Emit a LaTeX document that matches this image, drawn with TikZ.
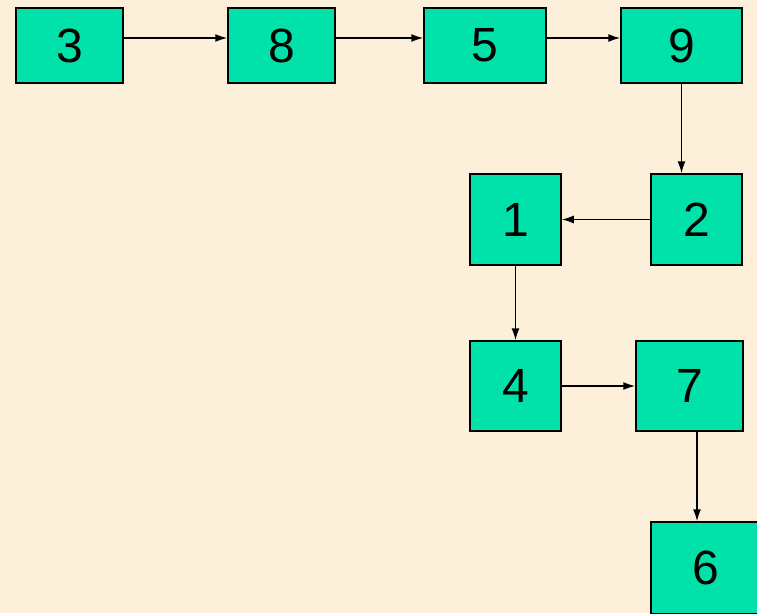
\documentclass[tikz,border=0pt]{standalone}
\usepackage{fontspec}
\setmainfont{Liberation Sans}
\usetikzlibrary{arrows.meta}
\definecolor{paper}{RGB}{252,240,218}
\definecolor{boxgreen}{RGB}{0,226,170}

\begin{document}
\begin{tikzpicture}[x=1pt, y=-1pt, line width=1.5pt,
  numbox/.style={rectangle, draw, fill=boxgreen, inner sep=0pt, font=\fontsize{48}{56}\selectfont},
  link/.style={-{Latex[length=12pt,width=8pt]}}]
  \clip (0,0) rectangle (757,613);
  \fill[paper] (0,0) rectangle (757,613);
  % top row
  \node[numbox, minimum width=107pt, minimum height=75pt] (n3) at (69.5,45.5) {3};
  \node[numbox, minimum width=107pt, minimum height=75pt] (n8) at (281.5,45.5) {8};
  \node[numbox, minimum width=122pt, minimum height=75pt] (n5) at (485,45.5) {5};
  \node[numbox, minimum width=121pt, minimum height=75pt] (n9) at (681.5,45.5) {9};
  % the rest
  \node[numbox, minimum width=91pt, minimum height=91pt] (n1) at (515.5,219.5) {1};
  \node[numbox, minimum width=91pt, minimum height=91pt] (n2) at (696.5,219.5) {2};
  \node[numbox, minimum width=91pt, minimum height=90pt] (n4) at (515.5,386) {4};
  \node[numbox, minimum width=107pt, minimum height=90pt] (n7) at (689.5,386) {7};
  \node[numbox, minimum width=110pt, minimum height=92pt] (n6) at (706,568) {6};
  \draw[link] ([yshift=7.5pt]n3.east) -- ([yshift=7.5pt]n8.west);
  \draw[link] ([yshift=7.5pt]n8.east) -- ([yshift=7.5pt]n5.west);
  \draw[link] ([yshift=7.5pt]n5.east) -- ([yshift=7.5pt]n9.west);
  \draw[link] (n9.south) -- (n9.south |- n2.north);
  \draw[link] (n2.west) -- (n1.east);
  \draw[link] (n1.south) -- (n4.north);
  \draw[link] (n4.east) -- (n7.west);
  \draw[link] ([xshift=7.5pt]n7.south) -- ([xshift=7.5pt]n7.south |- n6.north);
\end{tikzpicture}
\end{document}
